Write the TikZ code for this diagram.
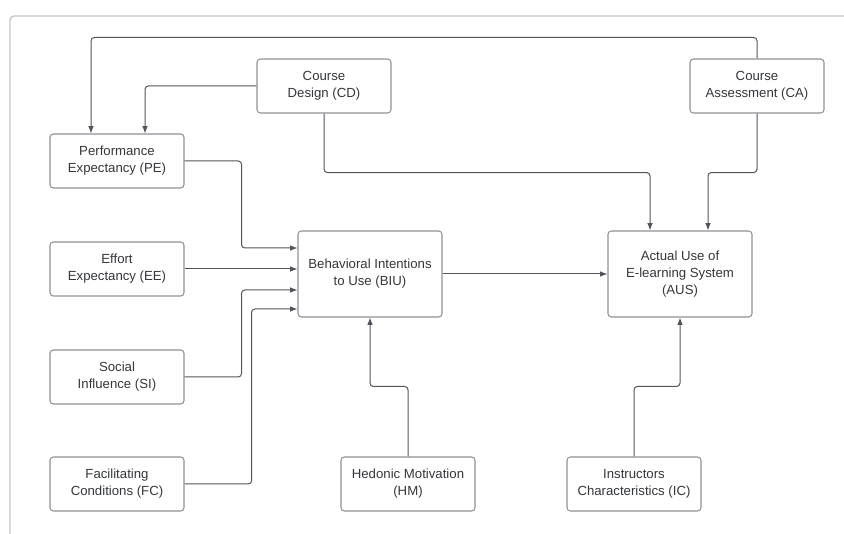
\documentclass[tikz,border=0pt]{standalone}
\usepackage{fontspec}
\setmainfont{Liberation Sans}
\usetikzlibrary{arrows.meta}
\definecolor{linegray}{HTML}{50555C}
\definecolor{boxgray}{HTML}{8E9196}
\definecolor{textgray}{HTML}{33363A}
\definecolor{framegray}{HTML}{C4C4C4}
\begin{document}
\begin{tikzpicture}[x=0.75pt, y=-0.75pt,
  box/.style={draw=boxgray, line width=0.8pt, rounded corners=2.5pt, align=center, text=textgray,
    minimum width=100.5pt, minimum height=40.5pt, inner sep=2pt, font=\fontsize{9.9}{12.75}\selectfont},
  bigbox/.style={box, minimum width=108pt, minimum height=64.5pt},
  arr/.style={draw=linegray, line width=0.75pt, rounded corners=2.5pt, -{Latex[length=5.5pt, width=4.2pt]}}]
\useasboundingbox (0,0) rectangle (844,534);
\draw[framegray, line width=1pt, rounded corners=3pt] (10,534) |- (844,16);
\node[box] (CD) at (324,86) {Course\\Design (CD)};
\node[box] (CA) at (757,86) {Course\\Assessment (CA)};
\node[box] (PE) at (117,161) {Performance\\Expectancy (PE)};
\node[box] (EE) at (117,269) {Effort\\Expectancy (EE)};
\node[box] (SI) at (117,377) {Social\\Influence (SI)};
\node[box] (FC) at (117,484) {Facilitating\\Conditions (FC)};
\node[bigbox] (BIU) at (370,274) {Behavioral Intentions\\to Use (BIU)};
\node[bigbox] (AUS) at (680,274) {Actual Use of\\E-learning System\\(AUS)};
\node[box] (HM) at (408,484) {Hedonic Motivation\\(HM)};
\node[box] (IC) at (634,484) {Instructors\\Characteristics (IC)};
\draw[arr] (CA.north) -- ++(0,-21) -| ([xshift=-19.5pt]PE.north);
\draw[arr] (CD.west) -| ([xshift=21pt]PE.north);
\draw[arr] (CD.south) -- ++(0,59) -| ([xshift=-22.5pt]AUS.north);
\draw[arr] (CA.south) -- ++(0,59) -| ([xshift=21pt]AUS.north);
\draw[arr] (PE.east) -- ++(57,0) |- ([yshift=19.5pt]BIU.west);
\draw[arr] (EE.east) -- (EE.east -| BIU.west);
\draw[arr] (SI.east) -- ++(57,0) |- ([yshift=-12pt]BIU.west);
\draw[arr] (FC.east) -- ++(67,0) |- ([yshift=-26.25pt]BIU.west);
\draw[arr] (BIU.east) -- (AUS.west);
\draw[arr] (HM.north) -- ++(0,-70) -| (BIU.south);
\draw[arr] (IC.north) -- ++(0,-70) -| (AUS.south);
\end{tikzpicture}
\end{document}
